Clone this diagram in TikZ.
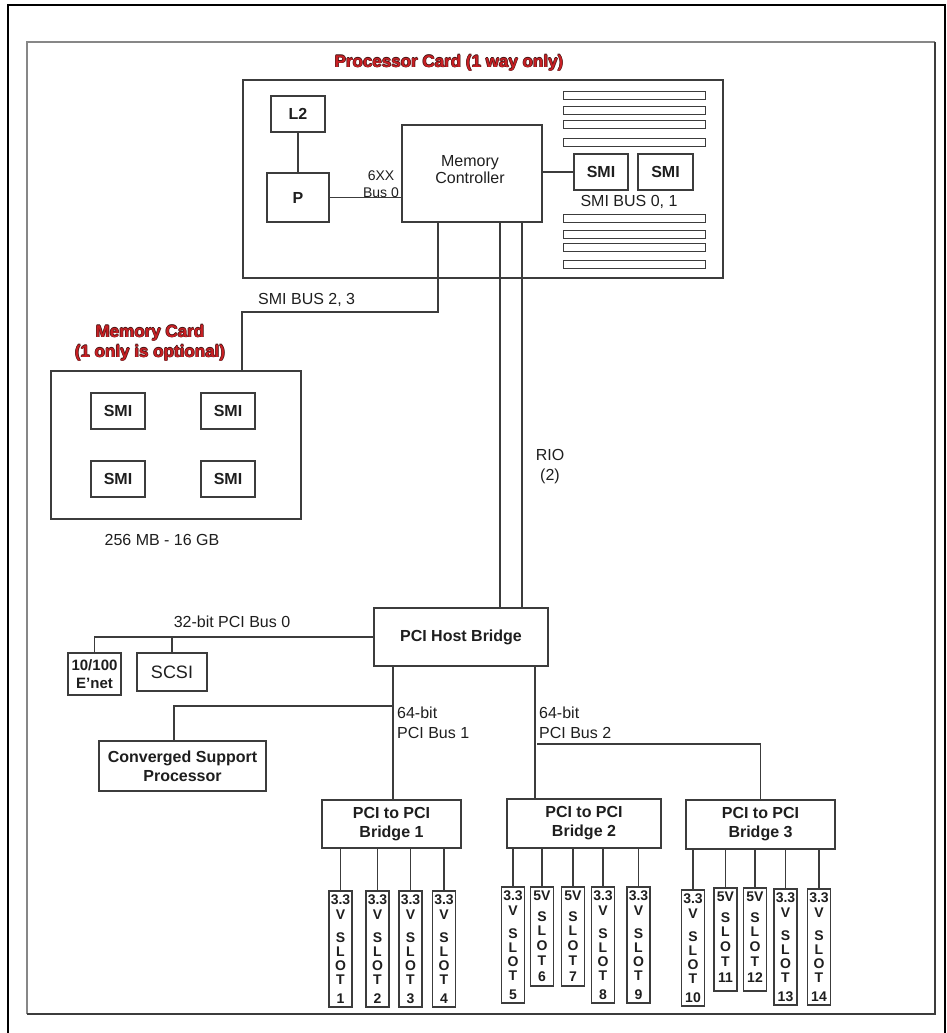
\documentclass[tikz,border=0pt]{standalone}
\usepackage{fontspec}
\setmainfont{Liberation Sans}
\definecolor{lc}{RGB}{60,60,60}
\definecolor{tc}{RGB}{30,30,30}
\definecolor{tred}{RGB}{200,32,36}
\definecolor{tdark}{RGB}{70,20,20}
\definecolor{frgray}{RGB}{135,135,135}
\newcommand\slotA[4]{%
  \node[slot, minimum height=116pt] (#1) at (#2,#3+58) {};
  \foreach \slch/\sloff in {3.3/8.7,V/24,S/47,L/61,O/75,T/89,#4/108}
    \node[stxt] at (#2,#3+\sloff) {\slch};
}
\newcommand\slotB[5]{%
  \node[slot, minimum height=#4pt] (#1) at (#2,#3+#4/2) {};
  \foreach \slch/\sloff in {5V/8.7,S/30,L/44,O/59,T/74,#5/90}
    \node[stxt] at (#2,#3+\sloff) {\slch};
}
\newcommand\outlined[4]{%
  \foreach \odx/\ody in {-0.6/0,0.6/0,0/-0.6,0/0.6}
    \node[ttl, text=tdark, align=center] at (#2+\odx,#3+\ody) {#4};
  \node[ttl, text=tred, align=center] (#1) at (#2,#3) {#4};
}
\begin{document}
\begin{tikzpicture}[x=1pt,y=-1pt,
  ln/.style={draw=lc, line width=1.1pt},
  bx/.style={draw=lc, line width=1.1pt, inner sep=0pt, align=center, text=tc},
  f16/.style={font=\fontsize{16}{19}\selectfont, text=tc, inner sep=0pt},
  bf16/.style={font=\fontsize{16}{19}\selectfont\bfseries, text=tc},
  ttl/.style={font=\fontsize{17}{20}\selectfont\bfseries, inner sep=0pt},
  slot/.style={draw=lc, line width=1.1pt, minimum width=23pt, inner sep=0pt},
  stxt/.style={font=\fontsize{14}{14}\selectfont\bfseries, inner sep=0pt, text=tc}]
\useasboundingbox (0,0) rectangle (947,1033);
% frames
\draw[black, line width=1.1pt] (8,1033) -- (8,5) -- (945,5) -- (945,1033);
\draw[frgray, line width=1.8pt] (27,1014) -- (27,42) -- (935,42);
\draw[lc, line width=1.4pt] (935,42) -- (935,1014) -- (27,1014);
% coordinates for bus taps
\coordinate (x438) at (438,0);
\coordinate (x500) at (500,0);
\coordinate (x522) at (522,0);
\coordinate (x393) at (393,0);
\coordinate (x535) at (535,0);
\coordinate (bend) at (242,312);
\coordinate (bus2) at (537,744);
\coordinate (cspj) at (174,706);
% processor card
\outlined{tpc}{449}{63}{Processor Card (1 way only)}
\node[bx, minimum width=480pt, minimum height=198pt] (pc) at (483,179) {};
\node[bx, bf16, minimum width=54pt, minimum height=36pt] (l2) at (298,114) {L2};
\node[bx, bf16, minimum width=62pt, minimum height=49pt] (p) at (298,197.5) {P};
\node[bx, minimum width=140pt, minimum height=97pt] (mc) at (472,173.5) {};
\node[font=\fontsize{16}{17}\selectfont, text=tc, align=center, inner sep=0pt] (mctxt) at (470,170) {Memory\\Controller};
\node[bx, bf16, minimum width=54pt, minimum height=36pt] (s1) at (601,172) {SMI};
\node[bx, bf16, minimum width=55pt, minimum height=36pt] (s2) at (665.5,172) {SMI};
\foreach \by in {91,106,120,138,214,230,243,260}
  \draw[lc, line width=1pt] (563,\by) rectangle (705,\by+8);
\node[f16] (smi01) at (629,202) {SMI BUS 0, 1};
\node[font=\fontsize{14}{17}\selectfont, text=tc, align=center, inner sep=0pt] (bus0) at (381,184.5) {6XX\\Bus 0};
\draw[ln] (l2.south) -- (p.north);
\draw[ln] (p.east) -- (p.east -| mc.west);
\draw[ln] (s1.west) -- (s1.west -| mc.east);
% memory card
\outlined{tmem}{150}{343}{Memory Card\\(1 only is optional)}
\node[bx, minimum width=250pt, minimum height=148pt] (mem) at (176,445) {};
\node[bx, bf16, minimum width=54pt, minimum height=36pt] (m1) at (118,411) {SMI};
\node[bx, bf16, minimum width=54pt, minimum height=36pt] (m2) at (228,411) {SMI};
\node[bx, bf16, minimum width=54pt, minimum height=36pt] (m3) at (118,479) {SMI};
\node[bx, bf16, minimum width=54pt, minimum height=36pt] (m4) at (228,479) {SMI};
\node[f16, anchor=west] (smi23) at (258,300) {SMI BUS 2, 3};
\node[f16] (cap) at (162,540) {256 MB - 16 GB};
\draw[ln] (mc.south -| x438) -- (x438 |- bend) -- (bend) -- (mem.north -| bend);
% RIO
\node[font=\fontsize{16}{20}\selectfont, text=tc, align=center, inner sep=0pt] (rio) at (550,467) {RIO\\(2)};
% host bridge
\node[bx, bf16, minimum width=174pt, minimum height=58pt] (hb) at (461,637) {PCI Host Bridge};
\draw[ln] (mc.south -| x500) -- (hb.north -| x500);
\draw[ln] (mc.south -| x522) -- (hb.north -| x522);
% PCI bus 0
\node[f16] (pb0) at (232,622) {32-bit PCI Bus 0};
\node[bx, font=\fontsize{15}{18}\selectfont\bfseries, minimum width=53pt, minimum height=42pt] (enet) at (94.5,674) {10/100\\E'net};
\node[bx, font=\fontsize{18}{20}\selectfont, minimum width=70pt, minimum height=38pt] (scsi) at (172,672) {SCSI};
\draw[ln] (hb.west) -- (hb.west -| enet.north) -- (enet.north);
\draw[ln] (scsi.north) -- (scsi.north |- hb.west);
% PCI bus 1
\node[f16, font=\fontsize{16}{20}\selectfont, align=left, anchor=west] (pb1) at (397,723) {64-bit\\PCI Bus 1};
\node[bx, font=\fontsize{16}{19}\selectfont\bfseries, minimum width=167pt, minimum height=50pt] (csp) at (182.5,766) {Converged Support\\Processor};
\draw[ln] (csp.north -| cspj) -- (cspj) -- (cspj -| x393);
% PCI bus 2
\node[f16, font=\fontsize{16}{20}\selectfont, align=left, anchor=west] (pb2) at (539,722.5) {64-bit\\PCI Bus 2};
% bridges
\node[bx, bf16, minimum width=139pt, minimum height=48pt] (b1) at (391.5,824) {PCI to PCI\\Bridge 1};
\node[bx, bf16, minimum width=154pt, minimum height=49pt] (b2) at (584,823.5) {PCI to PCI\\Bridge 2};
\node[bx, bf16, minimum width=149pt, minimum height=49pt] (b3) at (760.5,824.5) {PCI to PCI\\Bridge 3};
\draw[ln] (hb.south -| x393) -- (b1.north -| x393);
\draw[ln] (hb.south -| x535) -- (b2.north -| x535);
\draw[ln] (b3.north) |- (bus2);
% slots bridge 1
\slotA{sl1}{340.5}{891}{1}
\slotA{sl2}{377.5}{891}{2}
\slotA{sl3}{410.5}{891}{3}
\slotA{sl4}{444}{891}{4}
% slots bridge 2
\slotA{sl5}{513}{887}{5}
\slotB{sl6}{542}{887}{99}{6}
\slotB{sl7}{573}{887}{99}{7}
\slotA{sl8}{603}{887}{8}
\slotA{sl9}{638.5}{887}{9}
% slots bridge 3
\slotA{sl10}{693}{890}{10}
\slotB{sl11}{725.5}{888}{103}{11}
\slotB{sl12}{755}{888}{103}{12}
\slotA{sl13}{785.5}{889}{13}
\slotA{sl14}{819}{889}{14}
\foreach \sn in {1,2,3,4} \draw[ln] (sl\sn.north) -- (sl\sn.north |- b1.south);
\foreach \sn in {5,6,7,8,9} \draw[ln] (sl\sn.north) -- (sl\sn.north |- b2.south);
\foreach \sn in {10,11,12,13,14} \draw[ln] (sl\sn.north) -- (sl\sn.north |- b3.south);
\end{tikzpicture}
\end{document}
